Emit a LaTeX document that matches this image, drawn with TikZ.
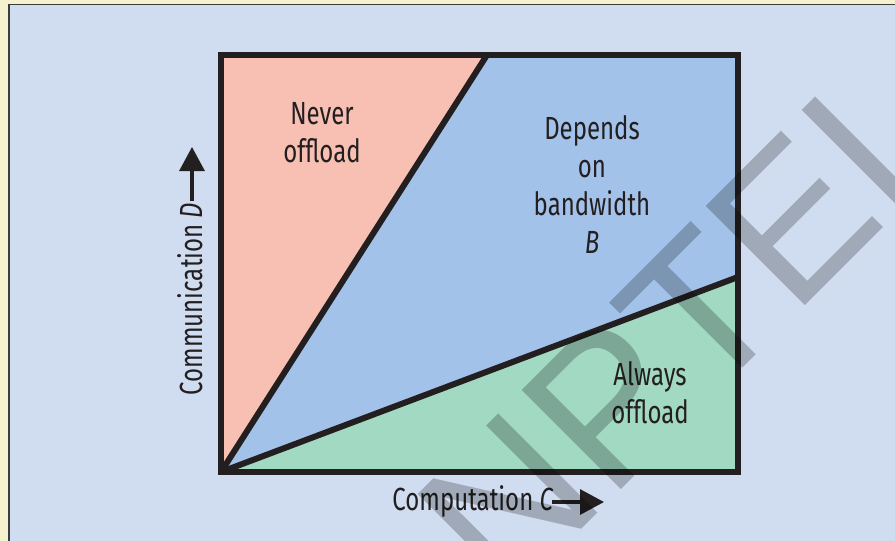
\documentclass[tikz,border=0pt]{standalone}
\usepackage{fontspec}
\setmainfont{Fira Sans}[FakeStretch=0.75]
\newfontfamily\wmfont{Liberation Sans}
\usetikzlibrary{arrows.meta}

\definecolor{cream}{HTML}{F6F1CF}
\definecolor{panel}{HTML}{D0DCF0}
\definecolor{rim}{HTML}{3C3C3C}
\definecolor{ink}{HTML}{231F20}
\definecolor{never}{HTML}{F8C0B3}
\definecolor{depends}{HTML}{A2C2EA}
\definecolor{always}{HTML}{A2D9C2}

\tikzset{
  border/.style={draw=ink, line width=6pt, line join=miter},
  region/.style={text=ink, align=center, inner sep=0pt,
    font=\fontsize{32}{38}\selectfont},
  axislabel/.style={text=ink, inner sep=0pt, font=\fontsize{32}{38}\selectfont},
  axisarrow/.style={draw=ink, line width=3.2pt,
    -{Triangle[length=24pt,width=25pt]}},
}

\begin{document}
\begin{tikzpicture}[x=1pt,y=-1pt]
\useasboundingbox (0,0) rectangle (895,541);
\clip (0,0) rectangle (895,541);

% page background with its thin rim on the left and top
\fill[cream] (0,0) rectangle (895,541);
\fill[panel] (9,4.5) rectangle (897,543);
\draw[rim, line width=1.4pt] (9,543) -- (9,4.5) -- (897,4.5);

% corners of the plot and the two boundary lines
\coordinate (O)  at (221,472);
\coordinate (TL) at (221,55);
\coordinate (TR) at (738,55);
\coordinate (BR) at (738,472);
\coordinate (P)  at (487,55);
\coordinate (Q)  at (738,277);

% the three regions
\fill[never]   (O) -- (TL) -- (P) -- cycle;
\fill[depends] (O) -- (P) -- (TR) -- (Q) -- cycle;
\fill[always]  (O) -- (Q) -- (BR) -- cycle;

\draw[border] (O) -- (P);
\draw[border] (O) -- (Q);
\draw[border] (O) -- (TL) -- (TR) -- (BR) -- cycle;

% region labels (base anchor sits on the last line)
\node[region, anchor=base] (nev) at (322,162) {Never\\offload};
\node[region, anchor=base] (dep) at (592,253) {Depends\\on\\bandwidth\\\textit{B}};
\node[region, anchor=base] (alw) at (650,423) {Always\\offload};

% axes
\node[axislabel, anchor=base] (xlab) at (473,510) {Computation \textit{C}};
\coordinate (xs) at (552,502);
\coordinate (xe) at (604,502);
\draw[axisarrow] (xs) -- (xe);

\node[axislabel, anchor=base, rotate=90] (ylab) at (202,299) {Communication \textit{D}};
\coordinate (ys) at (192,201);
\coordinate (ye) at (192,147);
\draw[axisarrow] (ys) -- (ye);

% watermark
\node[anchor=base west, inner sep=0pt, rotate=45, text=black, text opacity=0.23,
  font=\wmfont\fontsize{204}{204}\selectfont] (wm) at (505,606) {NPTEL};
\end{tikzpicture}
\end{document}
